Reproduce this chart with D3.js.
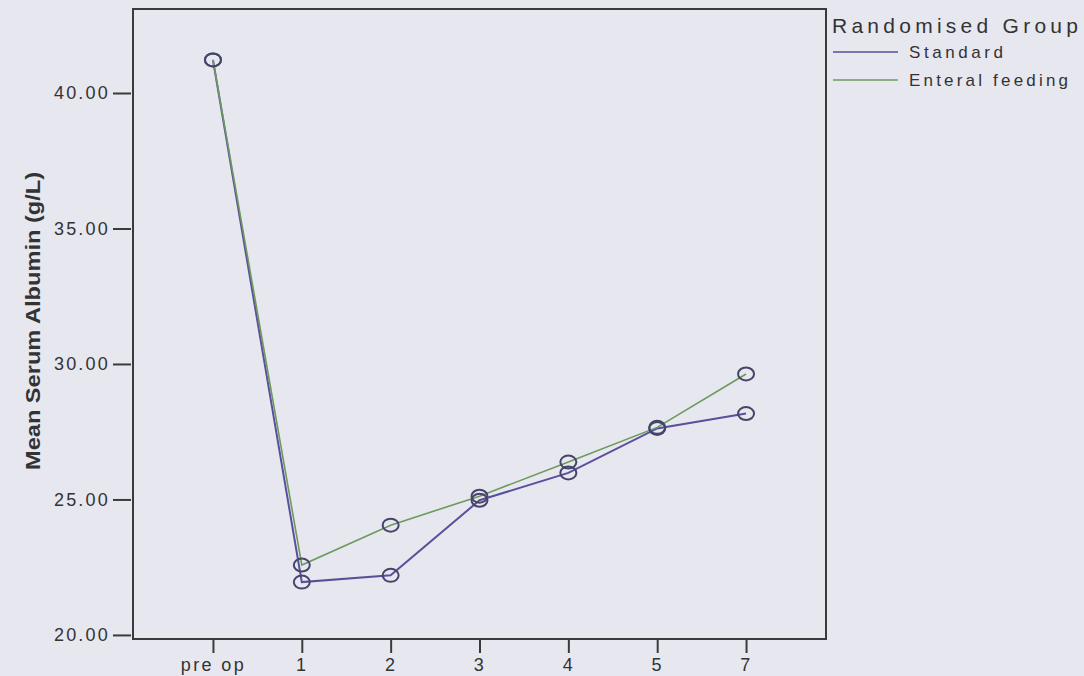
<!DOCTYPE html>
<html>
<head>
<meta charset="utf-8">
<script src="https://cdn.jsdelivr.net/npm/d3@7"></script>
<style>
  body { margin: 0; background: #e7e7f0; }
  svg { display: block; font-family: "Liberation Sans", Arial, sans-serif; }
</style>
</head>
<body>
<div id="container"></div>
<script>
// mean serum albumin by day
const days = ["pre op", "1", "2", "3", "4", "5", "7"];
const standard = [41.22, 21.95, 22.2, 24.97, 25.98, 27.62, 28.17];
const enteral = [41.22, 22.58, 24.05, 25.12, 26.38, 27.66, 29.63];
const yTicks = [20, 25, 30, 35, 40];
const seriesNames = ["Standard", "Enteral feeding"];

const width = 1084, height = 676;
const plotL = 133, plotR = 826, plotT = 9, plotB = 639;

let svg = d3.select("#container").append("svg")
  .attr("width", width)
  .attr("height", height);

svg.append("rect")
  .attr("width", width).attr("height", height)
  .attr("fill", "#e7e7f0");

let x = d3.scalePoint().domain(days).range([plotL, plotR]).padding(0.9);
let y = d3.scaleLinear().domain([19.85, 43.1]).range([plotB, plotT]);

let series = [
  { name: seriesNames[0], values: standard, color: "#5a4f9c", w: 2 },
  { name: seriesNames[1], values: enteral, color: "#6c9a5c", w: 1.6 }
];

// frame
svg.append("rect")
  .attr("x", plotL).attr("y", plotT)
  .attr("width", plotR - plotL).attr("height", plotB - plotT)
  .attr("fill", "none").attr("stroke", "#3a3a3a").attr("stroke-width", 2);

// y axis
let yAxis = svg.append("g")
  .attr("transform", `translate(${plotL - 2},0)`)
  .call(d3.axisLeft(y).tickValues(yTicks).tickFormat(d3.format(".2f")).tickSize(18).tickPadding(3));
yAxis.select(".domain").remove();
yAxis.selectAll("line").attr("stroke", "#3a3a3a").attr("stroke-width", 2);
yAxis.selectAll("text")
  .attr("fill", "#333").attr("font-size", 18).style("letter-spacing", "2.2px");

// x axis
let xAxis = svg.append("g")
  .attr("transform", `translate(0,${plotB + 1})`)
  .call(d3.axisBottom(x).tickSize(13).tickPadding(5));
xAxis.select(".domain").remove();
xAxis.selectAll("line").attr("stroke", "#3a3a3a").attr("stroke-width", 2);
xAxis.selectAll("text")
  .attr("fill", "#333").attr("font-size", 18).style("letter-spacing", "2.4px");

// y label
svg.append("text")
  .attr("transform", "translate(40,321) rotate(-90)")
  .attr("text-anchor", "middle")
  .attr("font-size", 21).attr("font-weight", "bold").attr("fill", "#333")
  .attr("textLength", 298).attr("lengthAdjust", "spacingAndGlyphs")
  .text("Mean Serum Albumin (g/L)");

let line = d3.line()
  .x((d, i) => x(days[i]))
  .y(d => y(d));

series.forEach(s => {
  svg.append("path")
    .datum(s.values)
    .attr("d", line)
    .attr("fill", "none")
    .attr("stroke", s.color)
    .attr("stroke-width", s.w);
});

series.forEach(s => {
  svg.append("g").selectAll("ellipse")
    .data(s.values)
    .join("ellipse")
    .attr("cx", (d, i) => x(days[i]))
    .attr("cy", d => y(d))
    .attr("rx", 8).attr("ry", 6.5)
    .attr("fill", "none")
    .attr("stroke", "#45456a")
    .attr("stroke-width", 2);
});

// legend
let legend = svg.append("g");
legend.append("text")
  .attr("x", 832).attr("y", 33)
  .attr("font-size", 21).attr("fill", "#333")
  .attr("textLength", 246).attr("lengthAdjust", "spacing")
  .text("Randomised Group");

let lens = [94, 159];
series.forEach((s, i) => {
  let ly = 52 + i * 28;
  legend.append("line")
    .attr("x1", 833).attr("x2", 898)
    .attr("y1", ly).attr("y2", ly)
    .attr("stroke", s.color).attr("stroke-width", 1.6);
  legend.append("text")
    .attr("x", 909).attr("y", ly + 6)
    .attr("font-size", 17).attr("fill", "#333")
    .attr("textLength", lens[i]).attr("lengthAdjust", "spacing")
    .text(s.name);
});
</script>
</body>
</html>
